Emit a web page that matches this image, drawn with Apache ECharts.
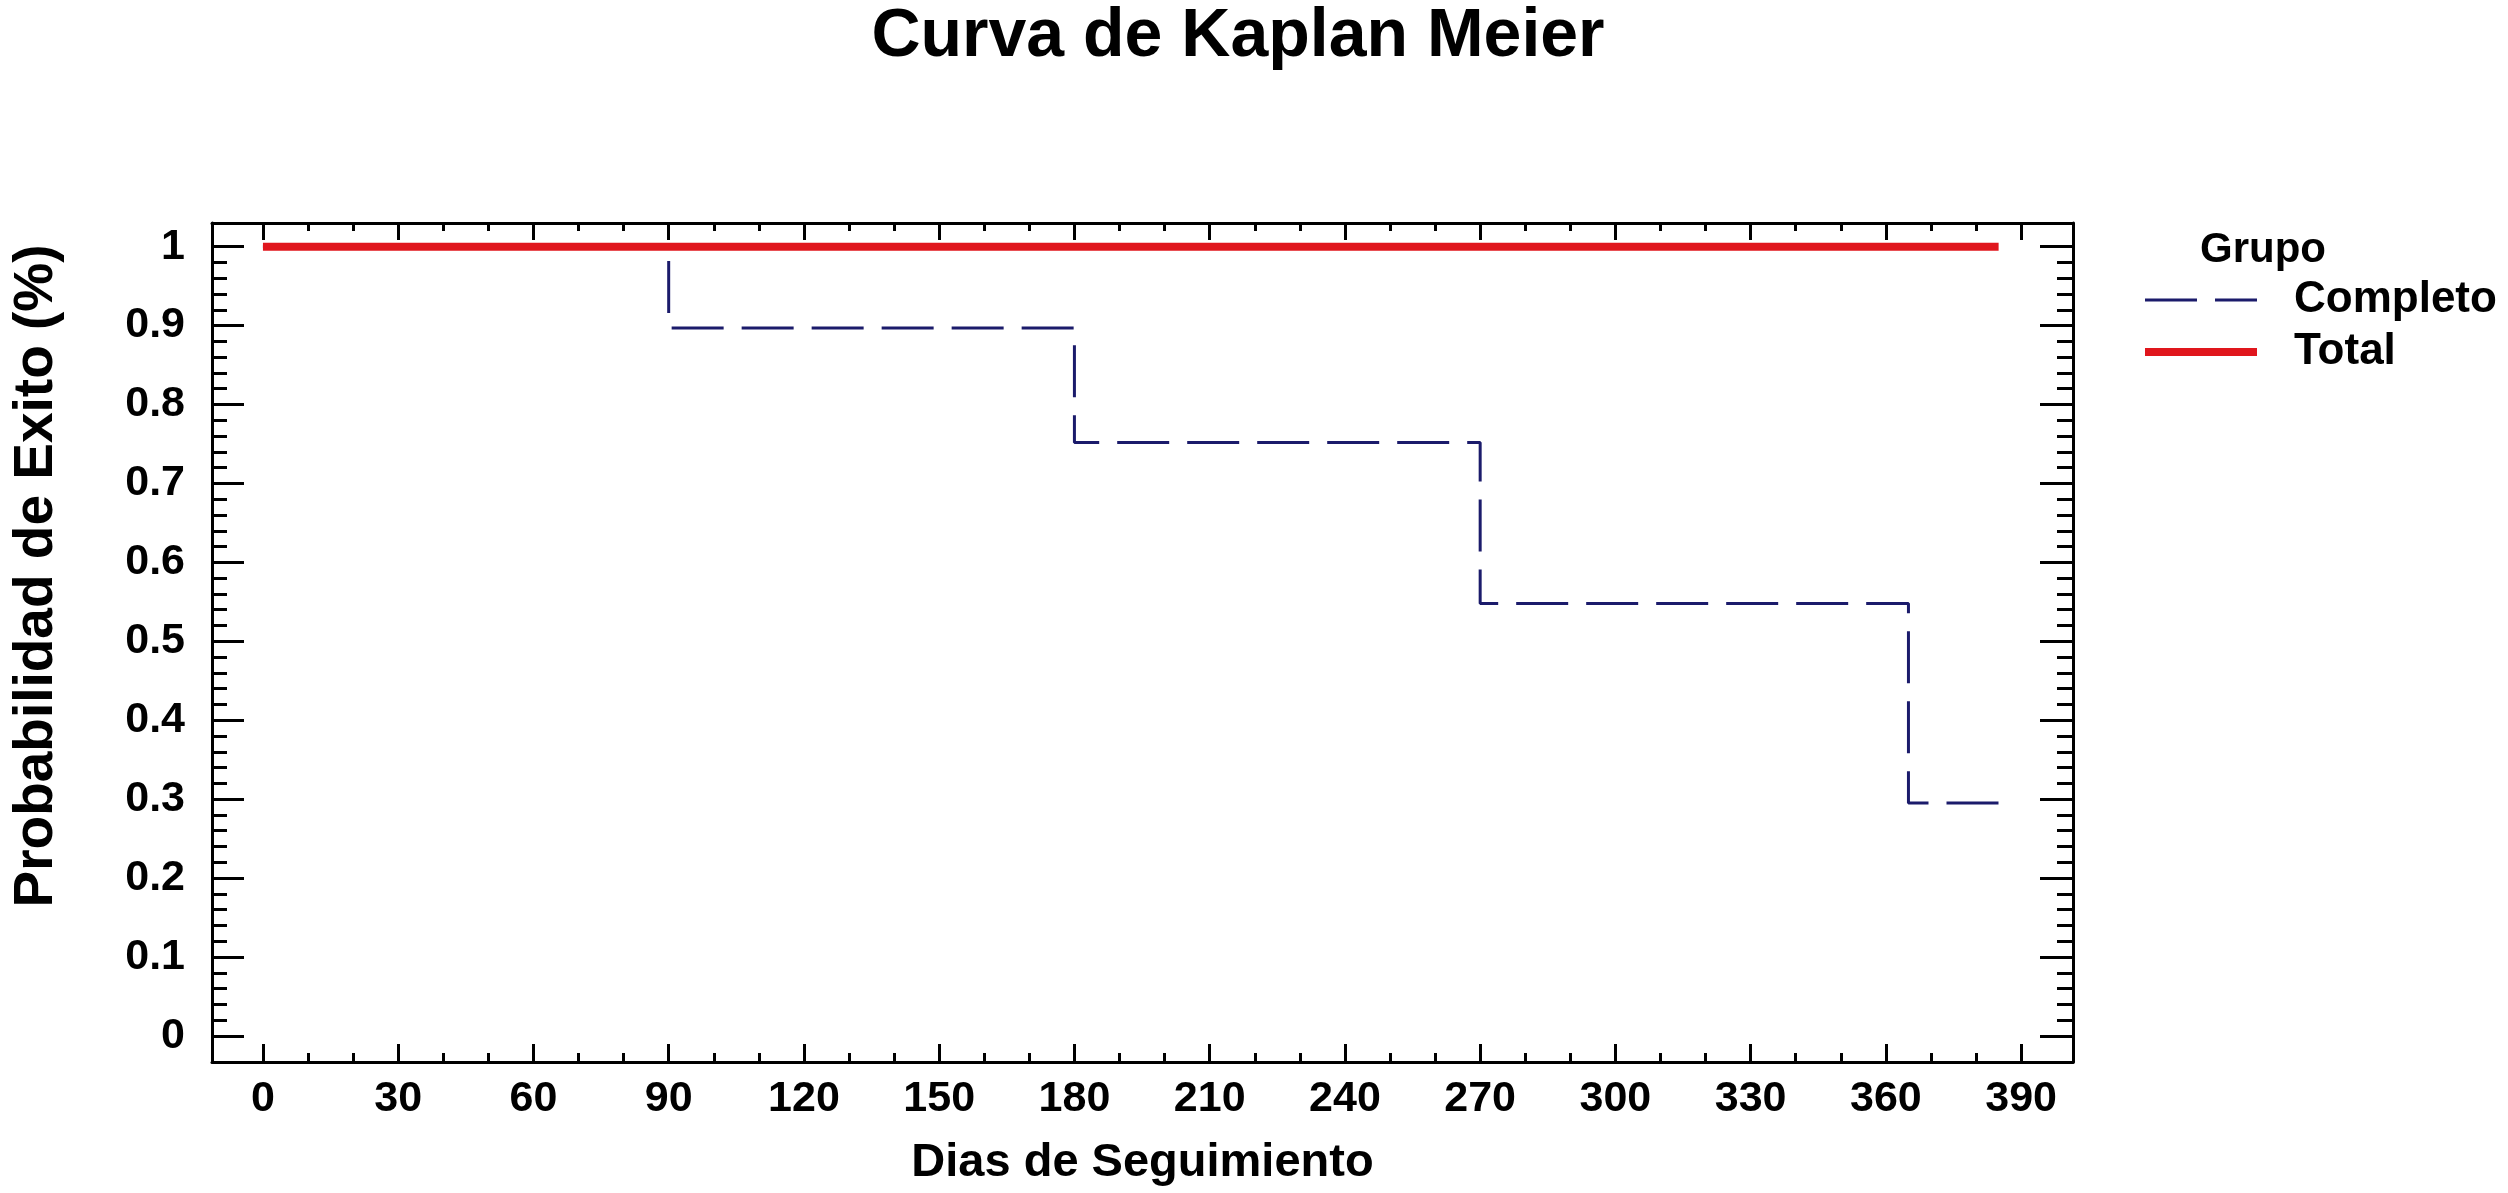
<!DOCTYPE html>
<html>
<head>
<meta charset="utf-8">
<script src="https://cdn.jsdelivr.net/npm/echarts@6/dist/echarts.min.js"></script>
<style>
html,body{margin:0;padding:0;background:#fff;}
#chart{width:2508px;height:1193px;}
</style>
</head>
<body>
<div id="chart"></div>
<script>
// ---- data ----
const completoDays = [0, 90, 180, 270, 365, 385];
const completoProb = [1, 0.897, 0.752, 0.548, 0.295, 0.295];
const totalDays = [0, 385];
const totalProb = [1, 1];
const xTicks = [0, 30, 60, 90, 120, 150, 180, 210, 240, 270, 300, 330, 360, 390];
const yTicks = [0, 0.1, 0.2, 0.3, 0.4, 0.5, 0.6, 0.7, 0.8, 0.9, 1];
const seriesNames = ['Completo', 'Total'];
const titleText = 'Curva de Kaplan Meier';
const xTitle = 'Dias de Seguimiento';
const yTitle = 'Probabilidad de Exito (%)';
const legendTitle = 'Grupo';

// minor tick positions (between major ticks)
const xMinor = [];
for (let i = 0; i < xTicks.length - 1; i++) {
  const step = (xTicks[i + 1] - xTicks[i]) / 3;
  xMinor.push(xTicks[i] + step, xTicks[i] + 2 * step);
}
const yMinor = [];
for (let i = 0; i < yTicks.length - 1; i++) {
  const step = (yTicks[i + 1] - yTicks[i]) / 5;
  for (let k = 1; k < 5; k++) yMinor.push(+(yTicks[i] + k * step).toFixed(4));
}

const FONT = 'Liberation Sans, Arial, sans-serif';
const X_MIN = -11.3, X_MAX = 401.5, Y_MIN = -0.033, Y_MAX = 1.03;
const lineCol = '#000';
const blue = '#1b1b6b', red = '#e0161d';
const dash = [52, 18];

function xAxisDef(pos, custom, len, showLine, showLabel) {
  return {
    type: 'value', position: pos, min: X_MIN, max: X_MAX,
    splitLine: {show: false},
    axisLine: {show: showLine, onZero: false, lineStyle: {color: lineCol, width: 3}},
    axisTick: {show: true, inside: true, length: len, customValues: custom, lineStyle: {color: lineCol, width: 3}},
    axisLabel: showLabel ? {show: true, customValues: custom, margin: 16, color: '#000', fontSize: 43, fontWeight: 'bold', fontFamily: FONT} : {show: false}
  };
}
function yAxisDef(pos, custom, len, showLine, showLabel) {
  return {
    type: 'value', position: pos, min: Y_MIN, max: Y_MAX,
    splitLine: {show: false},
    axisLine: {show: showLine, onZero: false, lineStyle: {color: lineCol, width: 3}},
    axisTick: {show: true, inside: true, length: len, customValues: custom, lineStyle: {color: lineCol, width: 3}},
    axisLabel: showLabel ? {show: true, customValues: custom, margin: 27, color: '#000', fontSize: 43, fontWeight: 'bold', fontFamily: FONT} : {show: false}
  };
}

const xMain = xAxisDef('bottom', xTicks, 18, true, true);
xMain.name = xTitle;
xMain.nameLocation = 'middle';
xMain.nameGap = 78;
xMain.nameTextStyle = {color: '#000', fontSize: 47, fontWeight: 'bold', fontFamily: FONT};

const chart = echarts.init(document.getElementById('chart'), null, {renderer: 'canvas'});
chart.setOption({
  backgroundColor: '#fff',
  animation: false,
  grid: {left: 212, top: 223, right: 435, bottom: 131, containLabel: false},
  xAxis: [
    xMain,
    xAxisDef('bottom', xMinor, 9, false, false),
    xAxisDef('top', xTicks, 17, true, false),
    xAxisDef('top', xMinor, 8, false, false)
  ],
  yAxis: [
    yAxisDef('left', yTicks, 32, true, true),
    yAxisDef('left', yMinor, 15, false, false),
    yAxisDef('right', yTicks, 33, true, false),
    yAxisDef('right', yMinor, 16, false, false)
  ],
  legend: {
    orient: 'vertical', left: 2141, top: 278, padding: 0,
    itemWidth: 112, itemHeight: 10, itemGap: 8,
    data: [
      {name: seriesNames[0], itemStyle: {opacity: 0}, lineStyle: {color: blue, width: 3, type: dash}},
      {name: seriesNames[1], itemStyle: {opacity: 0}, lineStyle: {color: red, width: 8, type: 'solid'}}
    ],
    textStyle: {color: '#000', fontSize: 44, fontWeight: 'bold', fontFamily: FONT, lineHeight: 44, padding: [0, 0, 0, 32]}
  },
  graphic: [
    {type: 'text', x: 1238, y: 37, style: {text: titleText, fill: '#000', font: 'bold 68px ' + FONT, textAlign: 'center', textVerticalAlign: 'middle'}},
    {type: 'text', x: 37, y: 576, rotation: Math.PI / 2, style: {text: yTitle, fill: '#000', font: 'bold 55px ' + FONT, textAlign: 'center', textVerticalAlign: 'middle'}},
    {type: 'text', x: 2200, y: 250, style: {text: legendTitle, fill: '#000', font: 'bold 42px ' + FONT, textAlign: 'left', textVerticalAlign: 'middle'}}
  ],
  series: [
    {
      name: seriesNames[0], type: 'line', step: 'end', symbol: 'none',
      xAxisIndex: 0, yAxisIndex: 0,
      data: completoDays.map((d, i) => [d, completoProb[i]]),
      lineStyle: {color: blue, width: 3, type: dash},
      itemStyle: {color: blue}, z: 2
    },
    {
      name: seriesNames[1], type: 'line', symbol: 'none',
      xAxisIndex: 0, yAxisIndex: 0,
      data: totalDays.map((d, i) => [d, totalProb[i]]),
      lineStyle: {color: red, width: 8, cap: 'butt'},
      itemStyle: {color: red}, z: 3
    }
  ]
});
</script>
</body>
</html>
